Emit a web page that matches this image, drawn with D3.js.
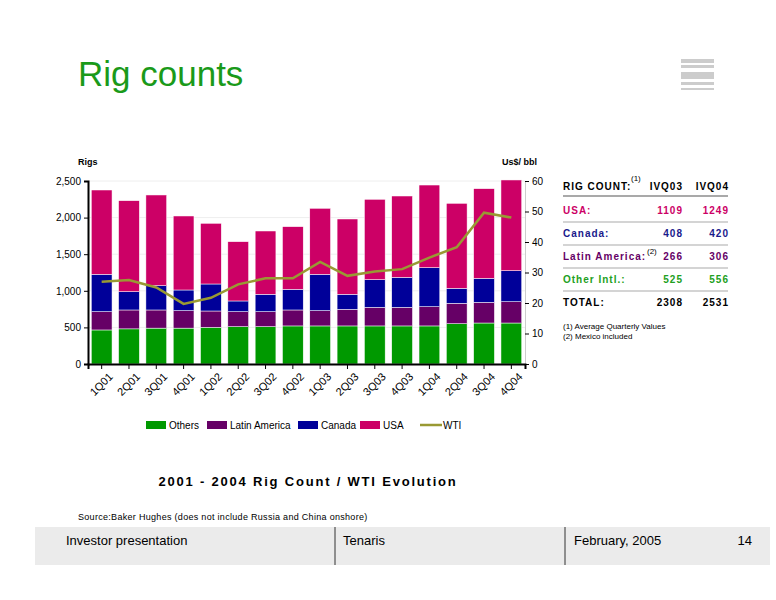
<!DOCTYPE html>
<html><head><meta charset="utf-8">
<script src="https://cdn.jsdelivr.net/npm/d3@7"></script>
<style>body{margin:0;background:#fff}text{font-family:"Liberation Sans",Arial,sans-serif}</style>
</head><body><svg id="c" width="776" height="600"></svg>
<script>
const quarters = ["1Q01","2Q01","3Q01","4Q01","1Q02","2Q02","3Q02","4Q02","1Q03","2Q03","3Q03","4Q03","1Q04","2Q04","3Q04","4Q04"];
const others = [465,480,490,490,500,510,510,520,520,520,520,520,520,550,560,560];
const latam = [250,258,248,239,224,205,205,218,209,227,254,254,263,279,282,291];
const canada = [510,250,332,282,369,146,237,282,496,205,378,410,533,205,328,424];
const usa = [1152,1243,1239,1011,829,810,865,856,902,1029,1098,1111,1129,1161,1225,1239];
const wti = [27,27.5,25.1,19.7,21.7,26.1,28.1,28.1,33.5,28.9,30.3,31.1,34.9,38.3,49.6,48];
const leftTicks = [0,500,1000,1500,2000,2500];
const rightTicks = [0,10,20,30,40,50,60];
const seriesNames = ["Others","Latin America","Canada","USA"];
const colors = ["#009900","#660066","#000099","#cc0066"];
const tableRows = [["USA:","1109","1249","#cc0066"],["Canada:","408","420","#1a1a8c"],["Latin America:","266","306","#660066"],["Other Intl.:","525","556","#22a022"],["TOTAL:","2308","2531","#000"]];

const svg = d3.select("#c");
svg.append("text").attr("x",78).attr("y",86).attr("fill","#1a9a1a").attr("font-size",35).attr("font-family","'Open Sans',sans-serif").text("Rig counts");
[[681,59,4],[681,65,3],[681,72,7],[681,82,3],[681,88,2]].forEach(s=>svg.append("rect").attr("x",s[0]).attr("y",s[1]).attr("width",33).attr("height",s[2]).attr("fill","#ccc"));

const x = d3.scaleBand().domain(quarters).range([88,525]).paddingInner(0.24).paddingOuter(0.12);
const y = d3.scaleLinear().domain([0,2500]).range([364,181]);
const y2 = d3.scaleLinear().domain([0,60]).range([364,181]);
const g = svg.append("g");
leftTicks.forEach(t=>g.append("line").attr("x1",88).attr("x2",525).attr("y1",y(t)).attr("y2",y(t)).attr("stroke","#eee"));
const data = quarters.map((q,i)=>({q,Others:others[i],"Latin America":latam[i],Canada:canada[i],USA:usa[i]}));
const stack = d3.stack().keys(seriesNames)(data);
stack.forEach((s,k)=>g.selectAll(null).data(s).enter().append("rect")
  .attr("x",d=>x(d.data.q)).attr("width",x.bandwidth())
  .attr("y",d=>y(d[1])).attr("height",d=>y(d[0])-y(d[1])).attr("fill",colors[k])
  .attr("stroke","#fff").attr("stroke-width",0.5));
g.append("path").datum(wti).attr("fill","none").attr("stroke","#999933").attr("stroke-width",2.5)
  .attr("d",d3.line().x((d,i)=>x(quarters[i])+x.bandwidth()/2).y(d=>y2(d)));
const la = svg.append("g").attr("transform","translate(88,0)").call(d3.axisLeft(y).tickValues(leftTicks).tickSize(4).tickFormat(d3.format(",")));
const ra = svg.append("g").attr("transform","translate(525,0)").call(d3.axisRight(y2).tickValues(rightTicks).tickSize(4));
const xa = svg.append("g").attr("transform","translate(0,364)").call(d3.axisBottom(x).tickSize(5));
[la,ra,xa].forEach(a=>{a.selectAll("text").attr("font-size",10).attr("fill","#000");a.select(".domain").attr("stroke","#000").attr("stroke-width",2);a.selectAll("line").attr("stroke","#000")});
ra.select(".domain").attr("stroke","#ccc").attr("stroke-width",1);
xa.selectAll("text").attr("font-size",11).attr("transform","rotate(-45)").attr("text-anchor","end").attr("dx","-0.1em").attr("dy","0.9em");
svg.append("text").attr("x",78).attr("y",165).attr("font-size",9).attr("font-weight","bold").text("Rigs");
svg.append("text").attr("x",537).attr("y",165).attr("font-size",9).attr("font-weight","bold").attr("text-anchor","end").text("Us$/ bbl");

const leg = [...seriesNames,"WTI"];
const lx = [146,207,298,360,420];
leg.forEach((n,i)=>{
  if(i<4) svg.append("rect").attr("x",lx[i]).attr("y",421).attr("width",20).attr("height",8).attr("fill",colors[i]);
  else svg.append("line").attr("x1",lx[i]).attr("x2",lx[i]+22).attr("y1",425).attr("y2",425).attr("stroke","#999933").attr("stroke-width",2.5);
  svg.append("text").attr("x",lx[i]+23).attr("y",429).attr("font-size",10).text(n);
});
svg.append("text").attr("x",308).attr("y",486).attr("text-anchor","middle").attr("font-size",13).attr("font-weight","bold").attr("letter-spacing",1.8).text("2001 - 2004 Rig Count /  WTI Evolution");
svg.append("text").attr("x",78).attr("y",520).attr("font-size",9).attr("letter-spacing",0.3).text("Source:Baker Hughes (does not include Russia and China onshore)");

const t = svg.append("g").attr("font-size",10).attr("font-weight","bold").attr("letter-spacing",1);
t.append("text").attr("x",563).attr("y",190).text("RIG COUNT:");
t.append("text").attr("x",631).attr("y",181).attr("font-size",8).attr("font-weight","normal").attr("font-family","serif").attr("letter-spacing",0).text("(1)");
t.append("text").attr("x",683).attr("y",190).attr("text-anchor","end").text("IVQ03");
t.append("text").attr("x",729).attr("y",190).attr("text-anchor","end").text("IVQ04");
t.append("line").attr("x1",563).attr("x2",728).attr("y1",196).attr("y2",196).attr("stroke","#555").attr("stroke-width",1.2);
tableRows.forEach((r,i)=>{
  const yy=214+i*23;
  t.append("text").attr("x",563).attr("y",yy).attr("fill",r[3]).text(r[0]);
  t.append("text").attr("x",683).attr("y",yy).attr("fill",r[3]).attr("text-anchor","end").text(r[1]);
  t.append("text").attr("x",729).attr("y",yy).attr("fill",r[3]).attr("text-anchor","end").text(r[2]);
  if(i<4) t.append("line").attr("x1",563).attr("x2",728).attr("y1",yy+8).attr("y2",yy+8).attr("stroke","#aaa").attr("stroke-width",1.2);
});
t.append("text").attr("x",647).attr("y",254).attr("font-size",8).attr("font-weight","normal").attr("font-family","serif").attr("letter-spacing",0).text("(2)");
svg.append("text").attr("x",563).attr("y",329).attr("font-size",8).text("(1) Average Quarterly Values");
svg.append("text").attr("x",563).attr("y",339).attr("font-size",8).text("(2) Mexico included");

svg.append("rect").attr("x",35).attr("y",527).attr("width",735).attr("height",38).attr("fill","#ebebeb");
[335,565].forEach(v=>svg.append("line").attr("x1",v).attr("x2",v).attr("y1",527).attr("y2",565).attr("stroke","#333"));
[["Investor presentation",66],["Tenaris",343],["February, 2005",574]].forEach(f=>svg.append("text").attr("x",f[1]).attr("y",545).attr("font-size",13).attr("font-family","'Open Sans',sans-serif").text(f[0]));
svg.append("text").attr("x",752).attr("y",545).attr("font-size",13).attr("font-family","'Open Sans',sans-serif").attr("text-anchor","end").text("14");
</script></body></html>
